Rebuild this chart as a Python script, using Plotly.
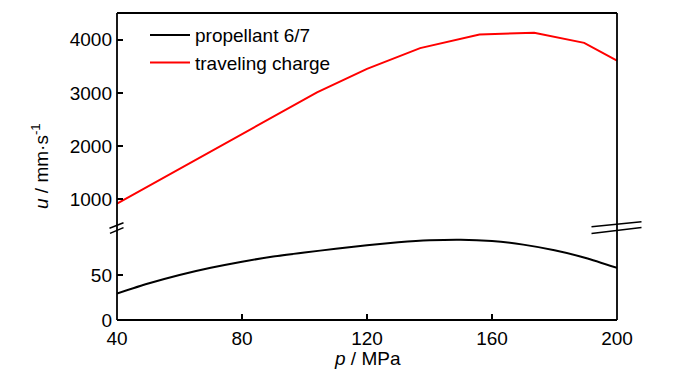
import plotly.graph_objects as go

# Data
p_prop = [40, 50, 60, 70, 80, 90, 100, 110, 120, 130, 140, 150, 160, 170, 180, 190, 200]
u_prop = [29.5, 40.5, 50, 58, 64.8, 70.5, 75, 79.2, 83, 86.3, 88.6, 89.3, 87.8, 83.8, 77.5, 69, 58]

p_tc = [40, 72, 104, 120, 137, 156, 173.5, 189.5, 200]
u_tc = [920, 1965, 3010, 3450, 3840, 4095, 4130, 3940, 3605]

x_ticks = [40, 80, 120, 160, 200]
y_top_ticks = [1000, 2000, 3000, 4000]
y_bot_ticks = [0, 50]

FONT = "Liberation Sans, Arial, sans-serif"
FS = 19

fig = go.Figure()
fig.add_trace(go.Scatter(x=p_prop, y=u_prop, mode="lines", name="propellant 6/7",
                         line=dict(color="black", width=2, shape="spline", smoothing=0.6),
                         xaxis="x", yaxis="y2"))
fig.add_trace(go.Scatter(x=p_tc, y=u_tc, mode="lines", name="traveling charge",
                         line=dict(color="#ff0000", width=2),
                         xaxis="x", yaxis="y"))

top_dom = [0.306, 1.0]
bot_dom = [0.0, 0.293]

fig.update_layout(
    width=692, height=366,
    margin=dict(l=109, r=83, t=5, b=54),
    paper_bgcolor="white", plot_bgcolor="white",
    font=dict(family=FONT, size=FS, color="black"),
    showlegend=True,
    legend=dict(x=0.056, y=0.99, xanchor="left", yanchor="top",
                bgcolor="rgba(0,0,0,0)", borderwidth=0,
                font=dict(family=FONT, size=FS, color="black"),
                tracegroupgap=0, itemwidth=40),
    xaxis=dict(range=[40, 200], tickvals=x_ticks, ticks="inside", ticklen=6,
               tickwidth=1.5, tickcolor="black", showgrid=False, zeroline=False,
               showline=False, anchor="y2", ticklabelstandoff=5, tickfont=dict(size=FS)),
    yaxis=dict(domain=top_dom, range=[500, 4500], tickvals=y_top_ticks,
               ticks="inside", ticklen=6, tickwidth=1.5, tickcolor="black",
               showgrid=False, zeroline=False, showline=False, anchor="x",
               ticklabelstandoff=4, tickfont=dict(size=FS)),
    yaxis2=dict(domain=bot_dom, range=[0, 100], tickvals=y_bot_ticks,
                ticks="inside", ticklen=6, tickwidth=1.5, tickcolor="black",
                showgrid=False, zeroline=False, showline=False, anchor="x",
                ticklabelstandoff=4, tickfont=dict(size=FS)),
)

# Frame
lw = 1.8
shapes = [
    dict(type="line", xref="paper", yref="paper", x0=0, x1=0, y0=0, y1=1, line=dict(color="black", width=lw)),
    dict(type="line", xref="paper", yref="paper", x0=1, x1=1, y0=0, y1=1, line=dict(color="black", width=lw)),
    dict(type="line", xref="paper", yref="paper", x0=0, x1=1, y0=1, y1=1, line=dict(color="black", width=lw)),
    dict(type="line", xref="paper", yref="paper", x0=0, x1=1, y0=0, y1=0, line=dict(color="black", width=lw)),
    # axis break marks (left)
    dict(type="line", xref="paper", yref="paper", x0=-0.015, x1=0.013, y0=0.299, y1=0.317, line=dict(color="black", width=1.5)),
    dict(type="line", xref="paper", yref="paper", x0=-0.014, x1=0.013, y0=0.282, y1=0.301, line=dict(color="black", width=1.5)),
    # axis break marks (right)
    dict(type="line", xref="paper", yref="paper", x0=0.949, x1=1.049, y0=0.304, y1=0.320, line=dict(color="black", width=1.5)),
    dict(type="line", xref="paper", yref="paper", x0=0.949, x1=1.049, y0=0.282, y1=0.301, line=dict(color="black", width=1.5)),
]
fig.update_layout(shapes=shapes)

fig.add_annotation(text="<i>p</i> / MPa", xref="paper", yref="paper", x=0.5, y=-0.124,
                   xanchor="center", yanchor="middle", showarrow=False, font=dict(size=FS))
fig.add_annotation(text="<i>u</i> / mm·s<sup>-1</sup>", xref="paper", yref="paper", x=-0.155, y=0.5,
                   xanchor="center", yanchor="middle", textangle=-90, showarrow=False, font=dict(size=FS))

fig.write_html("out.html")
